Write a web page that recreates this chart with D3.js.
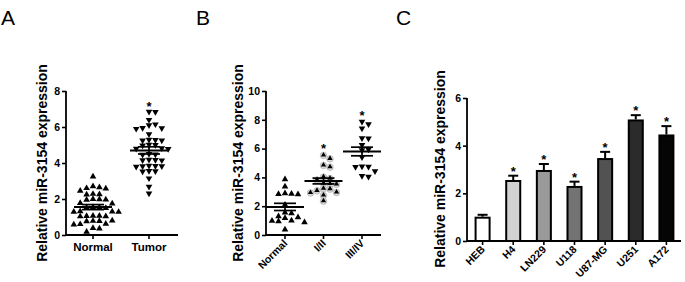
<!DOCTYPE html>
<html><head><meta charset="utf-8">
<script src="https://cdn.jsdelivr.net/npm/d3@7"></script>
<style>body{margin:0;background:#fff}svg{display:block}text{font-family:"Liberation Sans",Arial,sans-serif}</style>
</head><body><svg id="c" width="685" height="282"></svg>
<script>
// ---------- data ----------
const groupsA = ["Normal", "Tumor"];
const normalA = [3.24,2.7,2.65,2.6,2.58,2.45,2.28,2.26,2.24,2.0,1.98,1.97,1.96,1.77,1.75,1.54,1.53,1.52,1.5,1.31,1.3,1.29,1.28,1.07,1.06,1.05,1.04,1.03,0.8,0.78,0.77,0.76,0.62,0.6,0.58,0.38,0.36,0.18];
const tumorA = [6.85,6.84,6.4,6.15,6.1,5.95,5.93,5.9,5.6,5.3,5.28,5.26,5.25,5.02,5.0,4.98,4.82,4.8,4.78,4.5,4.48,4.46,4.18,4.17,4.16,4.15,3.85,3.84,3.83,3.82,3.8,3.56,3.55,3.53,3.15,2.69,2.31];
const meanA = [1.55, 4.7];
const semA = [0.14, 0.2];
const starA = [null, 7.3];
const ticksA = [0, 2, 4, 6, 8];

const groupsB = ["Normal", "I/II", "III/IV"];
const normalB = [3.87,3.36,2.9,2.86,2.84,2.82,2.1,1.55,1.5,1.3,1.22,1.18,1.0,0.98,0.95,0.88,0.38];
const stage12B = [5.56,5.32,4.86,4.74,4.05,3.95,3.85,3.6,3.58,3.55,3.25,3.22,3.1,2.98,2.95,2.78,2.38];
const stage34B = [7.87,7.69,7.4,6.72,6.7,6.25,5.95,5.9,5.4,4.76,4.74,4.72,4.44,4.1,4.05];
const meanB = [1.95, 3.75, 5.8];
const semB = [0.25, 0.2, 0.3];
const starB = [null, 6.2, 8.5];
const ticksB = [0, 2, 4, 6, 8, 10];

const cellsC = ["HEB", "H4", "LN229", "U118", "U87-MG", "U251", "A172"];
const valuesC = [1.02, 2.56, 2.98, 2.31, 3.48, 5.1, 4.47];
const errC = [0.08, 0.18, 0.25, 0.18, 0.26, 0.18, 0.35];
const starC = [false, true, true, true, true, true, true];
const colorsC = ["#ffffff", "#d2d2d2", "#9a9a9a", "#737373", "#525252", "#2b2b2b", "#050505"];
const ticksC = [0, 2, 4, 6];

const yLabel = "Relative miR-3154 expression";

// ---------- drawing ----------
const svg = d3.select("#c");
const F = '"Liberation Sans",Arial,sans-serif';

function panelLetter(t, x) {
  svg.append("text").attr("x", x).attr("y", 25).attr("font-size", 21).text(t);
}
panelLetter("A", 1); panelLetter("B", 196); panelLetter("C", 396);

function yAxis(g, y, ticks, x0) {
  const ax = g.append("g").attr("transform", `translate(${x0},0)`)
    .call(d3.axisLeft(y).tickValues(ticks).tickSize(4).tickPadding(2).tickFormat(d3.format("d")));
  ax.select(".domain").attr("stroke-width", 1.8).attr("d", `M-0,${y(ticks[ticks.length-1])}V${y(0)}`);
  ax.selectAll(".tick line").attr("stroke-width", 1.6);
  ax.selectAll("text").attr("font-size", 10.5).attr("font-weight", "bold").attr("font-family", F);
}
function yTitle(x, yc) {
  svg.append("text").attr("transform", `translate(${x},${yc}) rotate(-90)`)
    .attr("text-anchor", "middle").attr("font-size", 14).attr("font-weight", "bold").text(yLabel);
}

// beeswarm placement computed from values
function swarm(vals, y, cx, d, h) {
  const placed = [];
  vals.slice().sort((a, b) => b - a).forEach(v => {
    const py = y(v);
    for (let k = 0; k < 40; k++) {
      const off = k === 0 ? 0 : (k % 2 ? 1 : -1) * Math.ceil(k / 2) * d;
      const px = cx + off;
      if (!placed.some(p => Math.abs(p.y - py) < h && Math.abs(p.x - px) < d - 0.5)) {
        placed.push({x: px, y: py}); break;
      }
    }
  });
  return placed;
}
const tri = d3.symbol().type(d3.symbolTriangle).size(19)();

function drawPoints(pts, down, grey) {
  const g = svg.append("g");
  if (grey) {
    g.selectAll("circle").data(pts).join("circle")
      .attr("cx", p => p.x).attr("cy", p => p.y + 0.5).attr("r", 3.3)
      .attr("fill", "#d8d8d8").attr("stroke", "#aaa").attr("stroke-width", 0.6);
  }
  g.selectAll("path").data(pts).join("path").attr("d", tri)
    .attr("transform", p => `translate(${p.x},${p.y})${down ? " rotate(180)" : ""}${grey ? " scale(0.8)" : ""}`)
    .attr("fill", "#000");
}
function meanSem(cx, y, m, s) {
  const g = svg.append("g").attr("stroke", "#000");
  g.append("line").attr("x1", cx - 19).attr("x2", cx + 19).attr("y1", y(m)).attr("y2", y(m)).attr("stroke-width", 2);
  g.append("line").attr("x1", cx - 11).attr("x2", cx + 11).attr("y1", y(m + s)).attr("y2", y(m + s)).attr("stroke-width", 1.7);
  g.append("line").attr("x1", cx - 11).attr("x2", cx + 11).attr("y1", y(m - s)).attr("y2", y(m - s)).attr("stroke-width", 1.7);
  g.append("line").attr("x1", cx).attr("x2", cx).attr("y1", y(m + s)).attr("y2", y(m - s)).attr("stroke-width", 1.7);
}
function star(cx, yy) {
  svg.append("text").attr("x", cx).attr("y", yy + 7).attr("text-anchor", "middle")
    .attr("font-size", 13).attr("font-weight", "bold").text("*");
}
function xAxisLine(x0, x1, y0, centers) {
  svg.append("line").attr("x1", x0).attr("x2", x1).attr("y1", y0).attr("y2", y0).attr("stroke", "#000").attr("stroke-width", 1.8);
  centers.forEach(c => svg.append("line").attr("x1", c).attr("x2", c).attr("y1", y0).attr("y2", y0 + 4).attr("stroke", "#000").attr("stroke-width", 1.6));
}

// ---- Panel A ----
{
  const x0 = 66, x1 = 178;
  const y = d3.scaleLinear().domain([0, 8]).range([235, 91]);
  const x = d3.scalePoint().domain(groupsA).range([93, 149]);
  yAxis(svg.append("g"), y, ticksA, x0);
  xAxisLine(x0, x1, y(0), groupsA.map(g => x(g)));
  groupsA.forEach(g => svg.append("text").attr("x", x(g)).attr("y", 251).attr("text-anchor", "middle")
    .attr("font-size", 11.5).attr("font-weight", "bold").text(g));
  drawPoints(swarm(normalA, y, x("Normal"), 6.4, 5), false, false);
  drawPoints(swarm(tumorA, y, x("Tumor"), 6.4, 5), true, false);
  groupsA.forEach((g, i) => { meanSem(x(g), y, meanA[i], semA[i]); if (starA[i]) star(x(g), y(starA[i])); });
  yTitle(47, 163);
}
// ---- Panel B ----
{
  const x0 = 266, x1 = 381;
  const y = d3.scaleLinear().domain([0, 10]).range([235, 91]);
  const x = d3.scalePoint().domain(groupsB).range([285, 362]);
  yAxis(svg.append("g"), y, ticksB, x0);
  xAxisLine(x0, x1, y(0), groupsB.map(g => x(g)));
  groupsB.forEach(g => svg.append("text").attr("transform", `translate(${x(g) + 3},${y(0) + 9}) rotate(-45)`)
    .attr("text-anchor", "end").attr("font-size", 10.5).attr("font-weight", "bold").text(g));
  drawPoints(swarm(normalB, y, x("Normal"), 6.5, 5), false, false);
  drawPoints(swarm(stage12B, y, x("I/II"), 6.5, 5), false, true);
  drawPoints(swarm(stage34B, y, x("III/IV"), 6.5, 5), true, false);
  groupsB.forEach((g, i) => { meanSem(x(g), y, meanB[i], semB[i]); if (starB[i]) star(x(g), y(starB[i])); });
  yTitle(243, 163);
}
// ---- Panel C ----
{
  const x0 = 467, x1 = 681;
  const y = d3.scaleLinear().domain([0, 6]).range([241, 98]);
  const x = d3.scaleBand().domain(cellsC).range([466, 683]).paddingInner(0.477).paddingOuter(0.28);
  yAxis(svg.append("g"), y, ticksC, x0);
  const bw = x.bandwidth();
  const g = svg.append("g");
  cellsC.forEach((c, i) => {
    const cx = x(c) + bw / 2;
    g.append("line").attr("x1", cx).attr("x2", cx).attr("y1", y(valuesC[i])).attr("y2", y(valuesC[i] + errC[i])).attr("stroke", "#000").attr("stroke-width", 2);
    g.append("line").attr("x1", cx - 5).attr("x2", cx + 5).attr("y1", y(valuesC[i] + errC[i])).attr("y2", y(valuesC[i] + errC[i])).attr("stroke", "#000").attr("stroke-width", 2);
    if (starC[i]) star(cx, y(valuesC[i] + errC[i]) - 7);
  });
  g.selectAll("rect").data(cellsC).join("rect")
    .attr("x", c => x(c) + 1).attr("width", bw - 2)
    .attr("y", (c, i) => y(valuesC[i]) + 1).attr("height", (c, i) => y(0) - y(valuesC[i]) - 1)
    .attr("fill", (c, i) => colorsC[i]).attr("stroke", "#000").attr("stroke-width", 2);
  xAxisLine(x0, x1, y(0), cellsC.map(c => x(c) + bw / 2));
  cellsC.forEach(c => svg.append("text").attr("transform", `translate(${x(c) + bw / 2 + 3},${y(0) + 9}) rotate(-45)`)
    .attr("text-anchor", "end").attr("font-size", 10.5).attr("font-weight", "bold").text(c));
  yTitle(445, 169);
}
</script></body></html>
